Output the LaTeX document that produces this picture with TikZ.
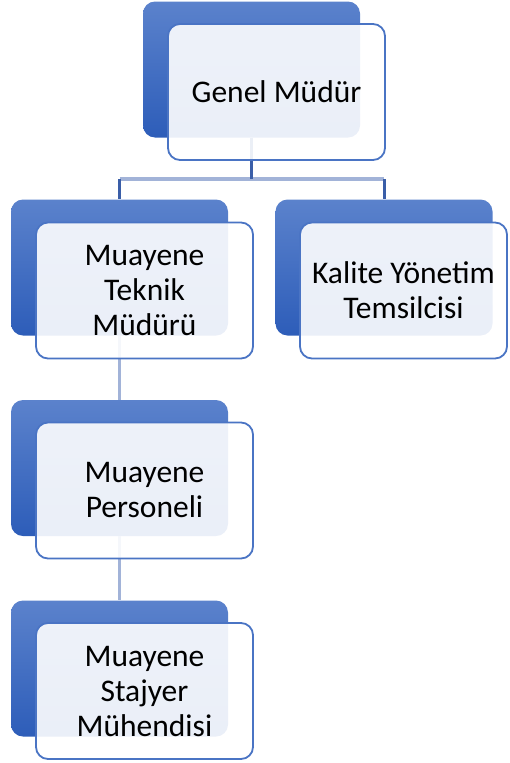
\documentclass[tikz,border=0pt]{standalone}
\usepackage{fontspec}
\setmainfont{Carlito}
\definecolor{ustmavi}{HTML}{5B82CC}
\definecolor{altmavi}{HTML}{2D5DB9}
\definecolor{cerceve}{HTML}{4A74C4}
\definecolor{koyuhat}{HTML}{3A5EA8}
\definecolor{acikhat}{HTML}{A2B3D8}
\tikzset{
  arka/.style={rectangle, rounded corners=12pt, top color=ustmavi, bottom color=altmavi,
    minimum width=217pt, minimum height=136pt, inner sep=0pt},
  on/.style={rectangle, rounded corners=12pt, draw=cerceve, line width=1.8pt, fill=white,
    fill opacity=0.9, text opacity=1, minimum width=217pt, minimum height=136pt,
    inner sep=0pt, align=center, font=\fontsize{31.5}{35}\selectfont},
  dikhat/.style={draw=koyuhat, line width=3pt},
  yatayhat/.style={draw=acikhat, line width=3.5pt}
}
\begin{document}
\begin{tikzpicture}[x=1pt,y=-1pt]
    \useasboundingbox (0,0) rectangle (509,763);
    % arka kutular
    \node[arka] (gm-a) at (251.5,69.5) {}; %genel mudur
    \node[arka] (tm-a) at (119.5,267.5) {}; %teknik mudur
    \node[arka] (kt-a) at (384,267.5) {}; %kalite
    \node[arka] (mp-a) at (119.5,468) {}; %personel
    \node[arka] (sm-a) at (119.5,668.5) {}; %stajyer
    % baglantilar
    \coordinate (kol) at (251.5,179);
    \draw[yatayhat] (tm-a.north |- kol) -- (kt-a.north |- kol);
    \draw[dikhat] (gm-a.south) -- (kol);
    \draw[dikhat] (tm-a.north |- kol) -- (tm-a.north);
    \draw[dikhat] (kt-a.north |- kol) -- (kt-a.north);
    \draw[yatayhat] (tm-a.south) -- (mp-a.north);
    \draw[yatayhat] (mp-a.south) -- (sm-a.north);
    % on kutular
    \node[on] (gm) at (276.5,92) {Genel Müdür};
    \node[on] (tm) at (144.5,290.5) {Muayene\\Teknik\\Müdürü};
    \node[on, minimum width=207pt] (kt) at (403.5,290.5) {Kalite Yönetim\\Temsilcisi};
    \node[on] (mp) at (144.5,490.5) {Muayene\\Personeli};
    \node[on] (sm) at (144.5,691) {Muayene\\Stajyer\\Mühendisi};
\end{tikzpicture}
\end{document}
